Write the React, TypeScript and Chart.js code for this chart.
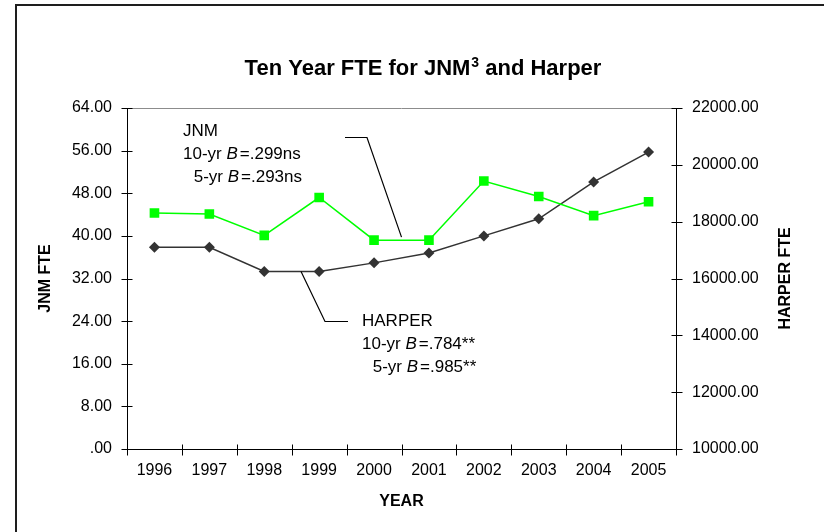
import React, { useEffect, useRef } from 'react';
import { Chart, registerables } from 'chart.js';

Chart.register(...registerables);

// ---- data ----
const years = ['1996', '1997', '1998', '1999', '2000', '2001', '2002', '2003', '2004', '2005'];
const jnmFte = [44.3, 44.1, 40.1, 47.2, 39.2, 39.2, 50.3, 47.4, 43.8, 46.4];
const harperFte = [17100, 17100, 16250, 16250, 16550, 16900, 17500, 18100, 19400, 20450];

const jnmMin = 0;
const jnmMax = 64;
const jnmStep = 8;
const harperMin = 10000;
const harperMax = 22000;
const harperStep = 2000;

const titleMain = 'Ten Year FTE for JNM';
const titleSup = '3';
const titleRest = ' and Harper';
const xTitle = 'YEAR';
const yLeftTitle = 'JNM FTE';
const yRightTitle = 'HARPER FTE';

const jnmNote = ['JNM', '10-yr ', 'B', '=.299ns', ' 5-yr ', 'B', '=.293ns'];
const harperNote = ['HARPER', '10-yr ', 'B', '=.784**', ' 5-yr ', 'B', '=.985**'];

const FONT = '"Liberation Sans", Arial, Helvetica, sans-serif';

function fmt(v: number) {
  if (v === 0) return '.00';
  return v.toFixed(2);
}

const decorPlugin = {
  id: 'decor',
  beforeDatasetsDraw(chart: any) {
    const { ctx, chartArea } = chart;
    const { left, right, top, bottom } = chartArea;
    ctx.save();
    // outer frame
    ctx.strokeStyle = '#1e1e1e';
    ctx.lineWidth = 2;
    ctx.beginPath();
    ctx.moveTo(16, 540);
    ctx.lineTo(16, 5);
    ctx.lineTo(830, 5);
    ctx.stroke();

    // top gray border
    ctx.lineWidth = 1;
    ctx.strokeStyle = '#8c8c8c';
    ctx.beginPath();
    ctx.moveTo(left, Math.round(top) + 0.5);
    ctx.lineTo(right, Math.round(top) + 0.5);
    ctx.stroke();

    ctx.strokeStyle = '#000';
    const L = Math.round(left) + 0.5;
    const R = Math.round(right) + 0.5;
    const B = Math.round(bottom) + 0.5;
    ctx.beginPath();
    ctx.moveTo(L, top);
    ctx.lineTo(L, bottom + 1);
    ctx.moveTo(R, top);
    ctx.lineTo(R, bottom + 1);
    ctx.moveTo(left, B);
    ctx.lineTo(right, B);
    const yL = chart.scales.y;
    for (let v = jnmMin; v <= jnmMax; v += jnmStep) {
      const y = Math.round(yL.getPixelForValue(v)) + 0.5;
      ctx.moveTo(L - 6, y);
      ctx.lineTo(L + 5, y);
    }
    const yR = chart.scales.y1;
    for (let v = harperMin; v <= harperMax; v += harperStep) {
      const y = Math.round(yR.getPixelForValue(v)) + 0.5;
      ctx.moveTo(R - 5, y);
      ctx.lineTo(R + 6, y);
    }
    const xs = chart.scales.x;
    for (let i = 0; i <= years.length; i++) {
      const x = Math.round(xs.getPixelForValue(i - 0.5)) + 0.5;
      ctx.moveTo(x, B - 5);
      ctx.lineTo(x, B + 6);
    }
    ctx.stroke();
    ctx.restore();
  },
  afterDraw(chart: any) {
    const { ctx, chartArea } = chart;
    const { left, right, top, bottom } = chartArea;
    ctx.save();
    ctx.fillStyle = '#000';
    ctx.textBaseline = 'alphabetic';

    // title
    const tFont = `bold 22px ${FONT}`;
    const sFont = `bold 14px ${FONT}`;
    ctx.font = tFont;
    const w1 = ctx.measureText(titleMain).width;
    const w3 = ctx.measureText(titleRest).width;
    ctx.font = sFont;
    const w2 = ctx.measureText(titleSup).width + 1;
    const total = w1 + w2 + w3;
    const tx = 423 - total / 2;
    ctx.textAlign = 'left';
    ctx.font = tFont;
    ctx.fillText(titleMain, tx, 75);
    ctx.font = sFont;
    ctx.fillText(titleSup, tx + w1 + 1, 67);
    ctx.font = tFont;
    ctx.fillText(titleRest, tx + w1 + w2, 75);

    // axis titles
    ctx.font = `bold 16px ${FONT}`;
    ctx.textAlign = 'center';
    ctx.textBaseline = 'middle';
    ctx.fillText(xTitle, (left + right) / 2, 502);
    const cy = (top + bottom) / 2;
    ctx.save();
    ctx.translate(46, cy);
    ctx.rotate(-Math.PI / 2);
    ctx.fillText(yLeftTitle, 0, 0);
    ctx.restore();
    ctx.save();
    ctx.translate(786, cy);
    ctx.rotate(-Math.PI / 2);
    ctx.fillText(yRightTitle, 0, 0);
    ctx.restore();

    // annotations
    const nFont = `17px ${FONT}`;
    const iFont = `italic 17px ${FONT}`;
    ctx.textAlign = 'left';
    const drawLine = (x: number, y: number, a: string, b: string, c: string) => {
      ctx.font = nFont;
      ctx.fillText(a, x, y);
      let xx = x + ctx.measureText(a).width;
      ctx.font = iFont;
      ctx.fillText(b, xx, y);
      xx += ctx.measureText(b).width + 2;
      ctx.font = nFont;
      ctx.fillText(c, xx, y);
    };
    ctx.font = nFont;
    ctx.fillText(jnmNote[0], 183, 131);
    drawLine(183, 154, jnmNote[1], jnmNote[2], jnmNote[3]);
    drawLine(189, 177, jnmNote[4], jnmNote[5], jnmNote[6]);
    ctx.font = nFont;
    ctx.fillText(harperNote[0], 362, 321);
    drawLine(362, 344, harperNote[1], harperNote[2], harperNote[3]);
    drawLine(368, 367, harperNote[4], harperNote[5], harperNote[6]);

    // leader lines
    const yL = chart.scales.y;
    const yR = chart.scales.y1;
    const xs = chart.scales.x;
    ctx.strokeStyle = '#000';
    ctx.lineWidth = 1.2;
    ctx.beginPath();
    ctx.moveTo(345, 137.5);
    ctx.lineTo(367, 137.5);
    ctx.lineTo(xs.getPixelForValue(4.5), yL.getPixelForValue(jnmFte[4]) - 3);
    ctx.stroke();
    ctx.beginPath();
    ctx.moveTo(348, 321.5);
    ctx.lineTo(325, 321.5);
    ctx.lineTo(xs.getPixelForValue(2.67), yR.getPixelForValue(harperFte[2]));
    ctx.stroke();
    ctx.restore();
  },
};

export default function App() {
  const ref = useRef<HTMLCanvasElement | null>(null);
  useEffect(() => {
    if (!ref.current) return;
    const chart = new Chart(ref.current, {
      type: 'line',
      data: {
        labels: years,
        datasets: [
          {
            label: 'JNM FTE',
            data: jnmFte,
            yAxisID: 'y',
            borderColor: '#00ff00',
            backgroundColor: '#00ff00',
            borderWidth: 1.5,
            pointStyle: 'rect',
            pointRadius: 6.8,
            pointBorderWidth: 0,
            tension: 0,
          },
          {
            label: 'HARPER FTE',
            data: harperFte,
            yAxisID: 'y1',
            borderColor: '#333333',
            backgroundColor: '#333333',
            borderWidth: 1.5,
            pointStyle: 'rectRot',
            pointRadius: 5.5,
            pointBorderWidth: 0,
            tension: 0,
          },
        ],
      },
      options: {
        responsive: false,
        maintainAspectRatio: false,
        animation: false,
        layout: { padding: { top: 108, left: 0, right: 0, bottom: 0 } },
        plugins: { legend: { display: false }, tooltip: { enabled: false }, title: { display: false } },
        scales: {
          x: {
            type: 'category',
            offset: true,
            grid: { display: false, drawTicks: false, offset: true },
            border: { display: false },
            ticks: { color: '#000', font: { family: FONT, size: 16 }, padding: 12, maxRotation: 0, autoSkip: false },
            afterFit: (s: any) => { s.height = 83; },
          },
          y: {
            position: 'left',
            min: jnmMin,
            max: jnmMax,
            grid: { display: false, drawTicks: false },
            border: { display: false },
            ticks: { stepSize: jnmStep, color: '#000', font: { family: FONT, size: 16 }, padding: 15, callback: (v: any) => fmt(Number(v)) },
            afterFit: (s: any) => { s.width = 127; },
          },
          y1: {
            position: 'right',
            min: harperMin,
            max: harperMax,
            grid: { display: false, drawTicks: false },
            border: { display: false },
            ticks: { stepSize: harperStep, color: '#000', font: { family: FONT, size: 16 }, padding: 16, callback: (v: any) => fmt(Number(v)) },
            afterFit: (s: any) => { s.width = 148; },
          },
        },
      },
      plugins: [decorPlugin],
    });
    return () => chart.destroy();
  }, []);
  return (
    <div style={{ position: 'fixed', left: 0, top: 0, width: 824, height: 532, overflow: 'hidden', background: '#fff' }}>
      <canvas ref={ref} width={824} height={532} style={{ display: 'block' }} />
    </div>
  );
}
